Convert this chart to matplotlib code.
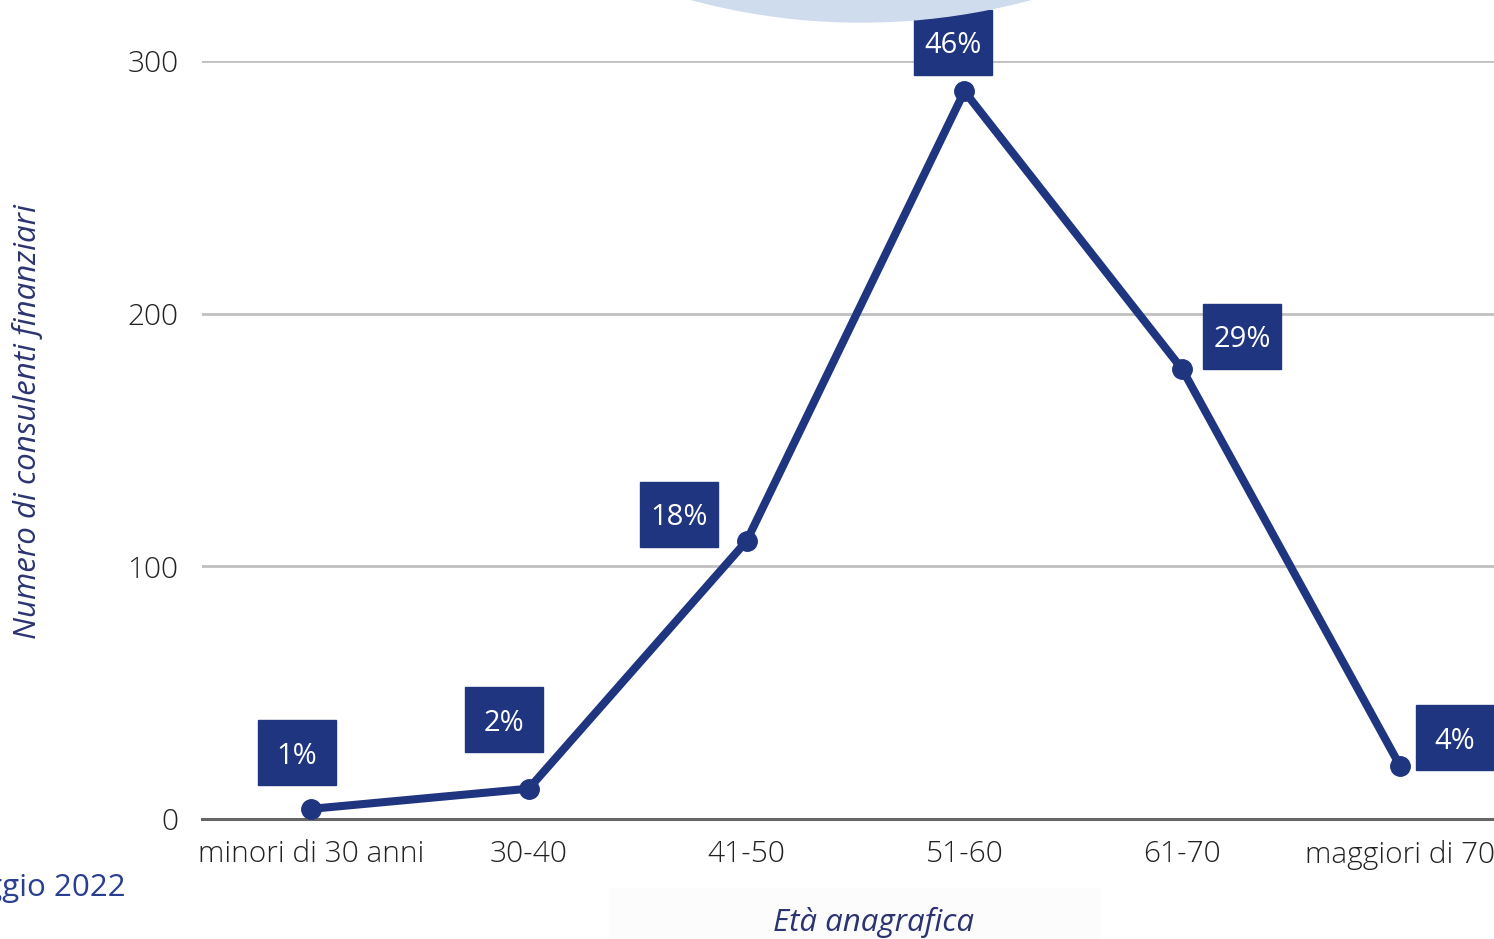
import matplotlib
matplotlib.use("Agg")
import matplotlib.pyplot as plt
import matplotlib.patches as mpatches
import matplotlib.transforms as mtransforms

plt.rcParams['font.family'] = ['Open Sans', 'DejaVu Sans']

# DATI
categorie = ['minori di 30 anni', '30-40', '41-50', '51-60', '61-70', 'maggiori di 70']
consulenti = [4, 12, 110, 288, 178, 21]
percentuali = ['1%', '2%', '18%', '46%', '29%', '4%']
y_ticks = [0, 100, 200, 300]

# offset delle etichette rispetto al punto (pixel)
offset_px = [(-14, 56), (-25, 69), (-68, 27), (-11, 49), (60, 33), (55, 28)]

BLU = '#1f3580'
DPI = 100

fig = plt.figure(figsize=(14.94, 9.39), dpi=DPI)
W, H = 1494, 939

# cerchio azzurro in alto
fig.patches.append(mpatches.Ellipse((861 / W, 1 + 630 / H), 2 * 652 / W, 2 * 652 / H,
                                    transform=fig.transFigure, color='#cfdcee', zorder=0))
# fascia chiara sotto il titolo asse x
fig.patches.append(mpatches.Rectangle((610 / W, 0), 490 / W, 51 / H,
                                      transform=fig.transFigure, color='#fcfcfd', zorder=0))

ax = fig.add_axes([202 / W, 1 - 819 / H, (1509 - 202) / W, (819 - 61) / H])
ax.set_facecolor('none')
x = list(range(len(categorie)))
ax.set_xlim(-0.5, len(categorie) - 0.5)
ax.set_ylim(0, 300)

ax.grid(axis='y', color='#c0c0c0', linewidth=2.0)
ax.set_axisbelow(True)
for s in ['top', 'right', 'left']:
    ax.spines[s].set_visible(False)
ax.spines['bottom'].set_color('#666666')
ax.spines['bottom'].set_linewidth(2.2)

ax.plot(x, consulenti, color=BLU, linewidth=5.8, marker='o', markersize=14,
        solid_capstyle='round', zorder=3, clip_on=False)

ax.set_yticks(y_ticks)
ax.set_xticks(x)
ax.set_xticklabels(categorie)
ax.tick_params(axis='both', length=0, labelsize=21.5, labelcolor='#222222')
ax.tick_params(axis='y', pad=17)
ax.tick_params(axis='x', pad=15)
for lab in ax.get_xticklabels() + ax.get_yticklabels():
    lab.set_fontweight('light')

# etichette percentuali
bw, bh = 78 / DPI, 65 / DPI
for xi, yi, testo, (dx, dy) in zip(x, consulenti, percentuali, offset_px):
    tr = fig.dpi_scale_trans + mtransforms.ScaledTranslation(xi, yi, ax.transData)
    cx, cy = dx / DPI, dy / DPI
    rect = mpatches.Rectangle((cx - bw / 2, cy - bh / 2), bw, bh, transform=tr,
                              color=BLU, zorder=5, clip_on=False)
    ax.add_patch(rect)
    ax.text(cx, cy, testo, transform=tr, color='white', fontsize=21,
            ha='center', va='center_baseline', zorder=6, clip_on=False)

fig.text(873 / W, 1 - 922 / H, 'Età anagrafica', color='#2b3470', fontsize=22.5,
         style='italic', ha='center', va='center')
fig.text(27 / W, 1 - 422 / H, 'Numero di consulenti finanziari', color='#2b3470',
         fontsize=22.5, style='italic', ha='center', va='center', rotation=90)
fig.text(126 / W, 1 - 888 / H, 'maggio 2022', color='#2a3f8f', fontsize=22.5,
         ha='right', va='center')

fig.savefig('out.png', dpi=DPI)
